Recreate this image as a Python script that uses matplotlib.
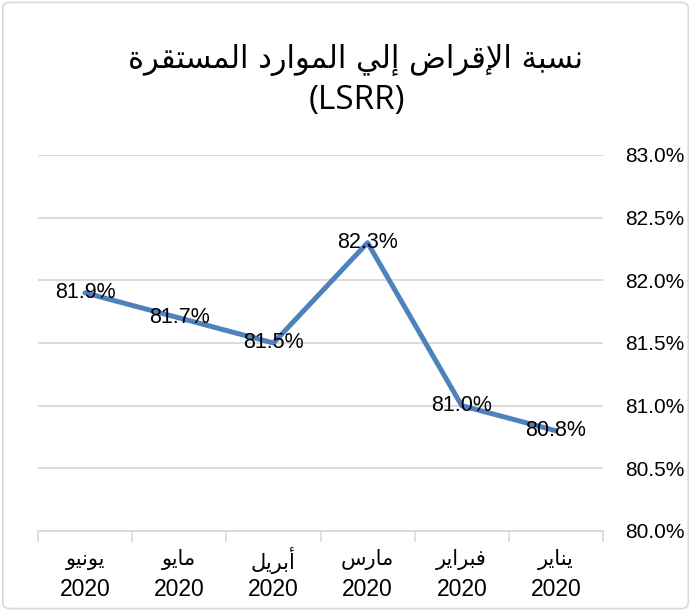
import matplotlib
matplotlib.use("Agg")
import matplotlib.pyplot as plt
from matplotlib.patches import FancyBboxPatch
from matplotlib.transforms import offset_copy

# data (chronological order, January is drawn on the right)
months = ["يناير", "فبراير", "مارس", "أبريل", "مايو", "يونيو"]
year = "2020"
lsrr = [80.8, 81.0, 82.3, 81.5, 81.7, 81.9]
y_ticks = [80.0, 80.5, 81.0, 81.5, 82.0, 82.5, 83.0]
title_ar = "نسبة الإقراض إلي الموارد المستقرة"
title_en = "(LSRR)"

# --- minimal Arabic shaping (matplotlib has no shaping / bidi) ---
FORMS = {
    "ا": ("\uFE8D", "\uFE8E", None, None),
    "أ": ("\uFE83", "\uFE84", None, None),
    "إ": ("\uFE87", "\uFE88", None, None),
    "ب": ("\uFE8F", "\uFE90", "\uFE91", "\uFE92"),
    "ة": ("\uFE93", "\uFE94", None, None),
    "ت": ("\uFE95", "\uFE96", "\uFE97", "\uFE98"),
    "د": ("\uFEA9", "\uFEAA", None, None),
    "ر": ("\uFEAD", "\uFEAE", None, None),
    "س": ("\uFEB1", "\uFEB2", "\uFEB3", "\uFEB4"),
    "ض": ("\uFEBD", "\uFEBE", "\uFEBF", "\uFEC0"),
    "ف": ("\uFED1", "\uFED2", "\uFED3", "\uFED4"),
    "ق": ("\uFED5", "\uFED6", "\uFED7", "\uFED8"),
    "ل": ("\uFEDD", "\uFEDE", "\uFEDF", "\uFEE0"),
    "م": ("\uFEE1", "\uFEE2", "\uFEE3", "\uFEE4"),
    "ن": ("\uFEE5", "\uFEE6", "\uFEE7", "\uFEE8"),
    "و": ("\uFEED", "\uFEEE", None, None),
    "ي": ("\uFEF1", "\uFEF2", "\uFEF3", "\uFEF4"),
}
LAM_ALEF = {"ا": ("\uFEFB", "\uFEFC"), "أ": ("\uFEF7", "\uFEF8"), "إ": ("\uFEF9", "\uFEFA")}


def shape(text):
    toks = []
    i = 0
    while i < len(text):
        c = text[i]
        if c == "ل" and i + 1 < len(text) and text[i + 1] in LAM_ALEF:
            toks.append(("LA", text[i + 1]))
            i += 2
        else:
            toks.append(c)
            i += 1

    def joins_fwd(t):
        return isinstance(t, str) and t in FORMS and FORMS[t][2] is not None

    def is_letter(t):
        return isinstance(t, tuple) or t in FORMS

    out = []
    for k, t in enumerate(toks):
        prev = k > 0 and joins_fwd(toks[k - 1])
        if isinstance(t, tuple):
            iso, fin = LAM_ALEF[t[1]]
            out.append(fin if prev else iso)
            continue
        if t not in FORMS:
            out.append(t)
            continue
        nxt = joins_fwd(t) and k + 1 < len(toks) and is_letter(toks[k + 1])
        iso, fin, ini, med = FORMS[t]
        if prev and nxt:
            out.append(med)
        elif prev:
            out.append(fin)
        elif nxt:
            out.append(ini)
        else:
            out.append(iso)
    return "".join(out)[::-1]


W, H = 691, 611
fig = plt.figure(figsize=(W / 100, H / 100), dpi=100)
fig.patches.append(FancyBboxPatch((0.004, 0.004), 0.992, 0.992,
                                  boxstyle="round,pad=0,rounding_size=0.01",
                                  transform=fig.transFigure, fill=False,
                                  edgecolor="#d9d9d9", linewidth=1.2))

ax = fig.add_axes([38 / W, 1 - 531 / H, (603 - 38) / W, (531 - 155) / H])
x = list(range(len(months)))
ax.plot(x, lsrr, color="#4f81bd", linewidth=3.6, solid_capstyle="round", zorder=3)
for xi, v in zip(x, lsrr):
    ax.text(xi, v, f"{v:.1f}%", ha="center", va="center", fontsize=15.5,
            family=["Liberation Sans"], color="#000000", zorder=4)

ax.set_xlim(-0.5, len(months) - 0.5)
ax.invert_xaxis()
ax.set_ylim(y_ticks[0], y_ticks[-1])
ax.set_yticks(y_ticks)
ax.set_yticklabels([f"{t:.1f}%" for t in y_ticks], family=["Liberation Sans"], fontsize=15)
ax.yaxis.tick_right()
ax.tick_params(axis="y", length=0, pad=16)
ax.grid(axis="y", color="#d9d9d9", linewidth=1.3)
ax.set_axisbelow(True)

# category labels: month (Arabic) above year, drawn as two aligned rows
ax.set_xticks(x)
ax.set_xticklabels([])
ax.set_xticks([i - 0.5 for i in range(len(months) + 1)], minor=True)
ax.tick_params(axis="x", which="major", length=0)
ax.tick_params(axis="x", which="minor", length=8, color="#d9d9d9", width=1.2)
tr = ax.get_xaxis_transform()
tr_m = offset_copy(tr, fig=fig, y=-29 * 72 / 100, units="points")
tr_y = offset_copy(tr, fig=fig, y=-59 * 72 / 100, units="points")
for xi, m in zip(x, months):
    ax.text(xi, 0, shape(m), transform=tr_m, ha="center", va="center",
            fontsize=15, family=["DejaVu Sans"])
    ax.text(xi, 0, year, transform=tr_y, ha="center", va="center",
            fontsize=16.5, family=["Liberation Sans"])

for s in ["top", "left", "right"]:
    ax.spines[s].set_visible(False)
ax.spines["bottom"].set_color("#d9d9d9")
ax.spines["bottom"].set_linewidth(1.3)

fig.text(355 / W, 1 - 60 / H, shape(title_ar), ha="center", va="center",
         fontsize=22, family=["DejaVu Sans"])
fig.text(357 / W, 1 - 101 / H, title_en, ha="center", va="center",
         fontsize=24, family=["Open Sans"])

fig.savefig("out.png", dpi=100)
